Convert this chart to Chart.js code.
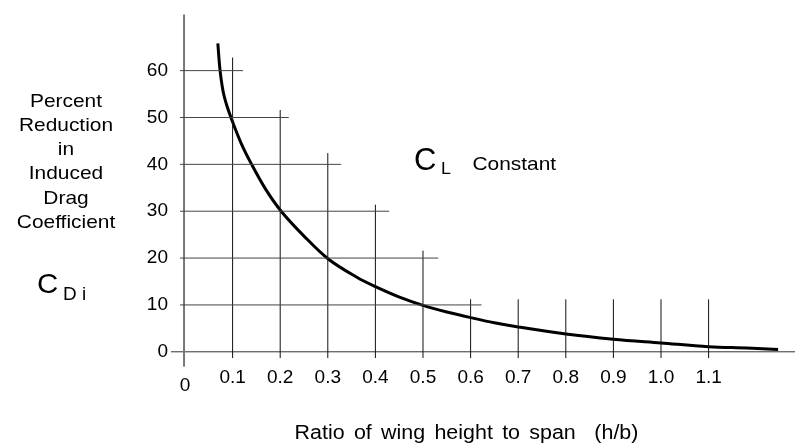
<!DOCTYPE html>
<html>
<head>
<meta charset="utf-8">
<script src="https://cdn.jsdelivr.net/npm/chart.js@4.4.1/dist/chart.umd.min.js"></script>
<style>
  html, body { margin: 0; padding: 0; background: #fff; }
</style>
</head>
<body>
<canvas id="dragChart" width="795" height="446"></canvas>
<script>
// curve: h/b against % reduction of CDi
const ratioHB = [0.069, 0.0735, 0.080, 0.088, 0.098, 0.118, 0.14, 0.17, 0.202, 0.249, 0.301, 0.361, 0.40, 0.452, 0.50, 0.55, 0.60, 0.65, 0.70, 0.80, 0.90, 1.00, 1.10, 1.18, 1.246];
const reductionPct = [65.8, 60.2, 55.6, 52.5, 49.6, 44.5, 40, 34.6, 30, 24.8, 19.8, 15.9, 13.9, 11.6, 9.9, 8.5, 7.3, 6.2, 5.3, 3.8, 2.7, 1.9, 1.1, 0.8, 0.5];

const yTickValues = [0, 10, 20, 30, 40, 50, 60];
const yTickLabels = ['0', '10', '20', '30', '40', '50', '60'];
const xTickValues = [0, 0.1, 0.2, 0.3, 0.4, 0.5, 0.6, 0.7, 0.8, 0.9, 1.0, 1.1];
const xTickLabels = ['0', '0.1', '0.2', '0.3', '0.4', '0.5', '0.6', '0.7', '0.8', '0.9', '1.0', '1.1'];

// staircase guide lines
const gridLevels = [60, 50, 40, 30, 20, 10];
const gridLevelEnds = [0.122, 0.218, 0.328, 0.429, 0.532, 0.623];
const gridColumns = [0.1, 0.2, 0.3, 0.4, 0.5, 0.6, 0.7, 0.8, 0.9, 1.0, 1.1];
const gridColumnTops = [62.8, 51.6, 42.4, 31.4, 21.6, 11.2, 11.2, 11.2, 11.2, 11.2, 11.2];

const titleLines = ['Percent', 'Reduction', 'in', 'Induced', 'Drag', 'Coefficient'];
const xTitle = 'Ratio of wing height to span  (h/b)';

const FONT = '"Liberation Sans", Arial, sans-serif';
const gap = { x: NaN, y: NaN };

function segments(pairs) {
    const pts = [];
    pairs.forEach(([a, b]) => pts.push(a, b, gap));
    return pts;
}

const hLines = segments(gridLevels.map((y, i) => [{ x: -0.0105, y: y }, { x: gridLevelEnds[i], y: y }]));
const vLines = segments(gridColumns.map((x, i) => [{ x: x, y: -1.34 }, { x: x, y: gridColumnTops[i] }]));

function lineSet(data, color, width) {
    return {
        data: data,
        showLine: true,
        borderColor: color,
        borderWidth: width,
        pointRadius: 0,
        spanGaps: false,
        clip: false
    };
}

// text is a bit wider than plain Arial in the original, so stretch it
function drawText(ctx, text, x, y, size, align, stretch) {
    ctx.save();
    ctx.translate(x, y);
    ctx.scale(stretch, 1);
    ctx.textAlign = align;
    ctx.font = size + 'px ' + FONT;
    ctx.fillText(text, 0, 0);
    ctx.restore();
}

const figureText = {
    id: 'figureText',
    afterDraw(chart) {
        const ctx = chart.ctx;
        ctx.save();
        ctx.fillStyle = '#000';
        ctx.textBaseline = 'alphabetic';

        titleLines.forEach((t, i) => drawText(ctx, t, 66, 106.7 + i * 24.2, 19, 'center', 1.1));

        drawText(ctx, 'C', 37, 293.3, 28, 'left', 1.05);
        drawText(ctx, 'D i', 63, 299.5, 18, 'left', 1.05);

        drawText(ctx, 'C', 414, 170, 31, 'left', 1.0);
        drawText(ctx, 'L', 441, 174, 17, 'left', 1.05);
        drawText(ctx, 'Constant', 472.5, 170, 19, 'left', 1.1);

        if ('wordSpacing' in ctx) ctx.wordSpacing = '3px';
        drawText(ctx, xTitle, 466.5, 439.3, 19.5, 'center', 1.1);
        ctx.restore();
    }
};

const ctx = document.getElementById('dragChart').getContext('2d');

new Chart(ctx, {
    type: 'scatter',
    data: {
        datasets: [
            lineSet(hLines, '#444', 1),
            lineSet(vLines, '#111', 1),
            lineSet([{ x: -0.002, y: -3.18 }, { x: -0.002, y: 72 }], '#777', 2),
            lineSet([{ x: -0.0294, y: 0 }, { x: 1.2815, y: 0 }], '#333', 1),
            {
                data: ratioHB.map((x, i) => ({ x: x, y: reductionPct[i] })),
                showLine: true,
                borderColor: '#000',
                borderWidth: 3,
                pointRadius: 0,
                tension: 0.35,
                clip: false
            }
        ]
    },
    options: {
        responsive: false,
        animation: false,
        layout: { padding: { top: 12.7, left: 0, right: 0, bottom: 0 } },
        plugins: {
            legend: { display: false },
            tooltip: { enabled: false }
        },
        scales: {
            x: {
                type: 'linear',
                min: -0.0294,
                max: 1.2815,
                grid: { display: false, drawTicks: false },
                border: { display: false },
                afterFit: (s) => { s.height = 79.3; },
                afterBuildTicks: (s) => { s.ticks = xTickValues.map(v => ({ value: v })); },
                ticks: {
                    color: '#000',
                    padding: 0,
                    maxRotation: 0,
                    autoSkip: false,
                    font: (c) => ({ family: FONT, size: 19, lineHeight: (c.tick && c.tick.value === 0) ? 2.0 : 1.2 }),
                    callback: (val) => xTickLabels[xTickValues.indexOf(val)]
                }
            },
            y: {
                type: 'linear',
                min: -3.18,
                max: 72,
                grid: { display: false, drawTicks: false },
                border: { display: false },
                afterFit: (s) => { s.width = 171; },
                afterBuildTicks: (s) => { s.ticks = yTickValues.map(v => ({ value: v })); },
                ticks: {
                    color: '#000',
                    padding: 3,
                    autoSkip: false,
                    font: { family: FONT, size: 19 },
                    callback: (val) => yTickLabels[yTickValues.indexOf(val)]
                }
            }
        }
    },
    plugins: [figureText]
});
</script>
</body>
</html>
